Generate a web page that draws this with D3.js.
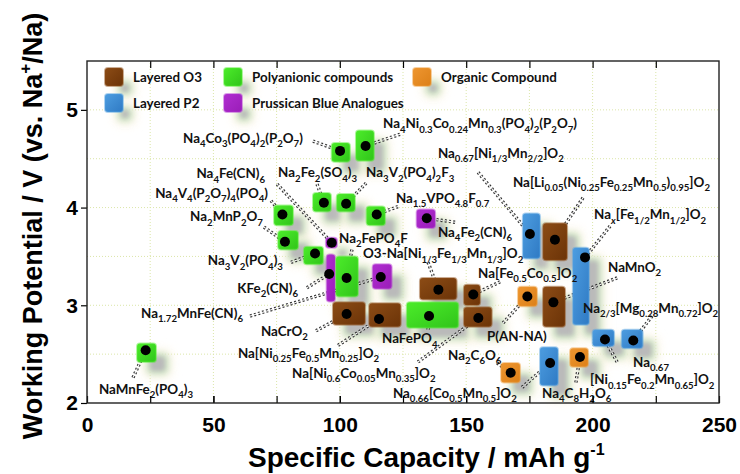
<!DOCTYPE html>
<html>
<head>
<meta charset="utf-8">
<script src="https://cdn.jsdelivr.net/npm/d3@7"></script>
<style>
  body { margin: 0; background: #fff; }
  svg { display: block; }
</style>
</head>
<body>
<div id="chart"></div>
<script>
// material names, "_{...}" marks a subscript
const names = [
  "Na_{4}Co_{3}(PO_{4})_{2}(P_{2}O_{7})",
  "Na_{4}Ni_{0.3}Co_{0.24}Mn_{0.3}(PO_{4})_{2}(P_{2}O_{7})",
  "Na_{2}Fe_{2}(SO_{4})_{3}",
  "Na_{3}V_{2}(PO_{4})_{2}F_{3}",
  "Na_{1.5}VPO_{4.8}F_{0.7}",
  "Na_{4}V_{4}(P_{2}O_{7})_{4}(PO_{4})",
  "Na_{2}MnP_{2}O_{7}",
  "Na_{3}V_{2}(PO_{4})_{3}",
  "Na_{4}Fe(CN)_{6}",
  "KFe_{2}(CN)_{6}",
  "Na_{2}FePO_{4}F",
  "Na_{1.72}MnFe(CN)_{6}",
  "NaCrO_{2}",
  "Na[Ni_{0.25}Fe_{0.5}Mn_{0.25}]O_{2}",
  "NaFePO_{4}",
  "O3-Na[Ni_{1/3}Fe_{1/3}Mn_{1/3}]O_{2}",
  "Na[Fe_{0.5}Co_{0.5}]O_{2}",
  "Na[Ni_{0.6}Co_{0.05}Mn_{0.35}]O_{2}",
  "P(AN-NA)",
  "NaMnO_{2}",
  "Na_{0.67}[Ni_{1/3}Mn_{2/2}]O_{2}",
  "Na[Li_{0.05}(Ni_{0.25}Fe_{0.25}Mn_{0.5})_{0.95}]O_{2}",
  "Na_{x}[Fe_{1/2}Mn_{1/2}]O_{2}",
  "Na_{2/3}[Mg_{0.28}Mn_{0.72}]O_{2}",
  "Na_{0.67}",
  "Na_{4}C_{8}H_{2}O_{6}",
  "Na_{0.66}[Co_{0.5}Mn_{0.5}]O_{2}",
  "Na_{2}C_{6}O_{6}",
  "NaMnFe_{2}(PO_{4})_{3}",
  "Na_{4}Fe_{2}(CN)_{6}"
];
const kinds = ["poly","poly","poly","poly","poly","poly","poly","poly","pba","pba",
               "poly","pba","O3","O3","poly","O3","O3","O3","org","O3",
               "P2","O3","P2","P2","P2","org","P2","org","poly","pba"];

// specific capacity (mAh/g) and working potential (V) of each material
const capacity  = [100.1,110.2,93.7,102.5,114.6,77.3,78.3,90.2,96.8,95.8,
                   102.7,116.2,102.7,115.5,135.3,139.0,152.8,154.8,174.2,184.5,
                   175.2,185.1,197.0,216.1,204.9,195.0,183.2,167.6,23.2,134.4];
const potential = [4.58,4.63,4.05,4.04,3.93,3.93,3.65,3.53,3.64,3.32,
                   3.28,3.29,2.91,2.86,2.89,3.16,3.11,2.87,3.09,3.03,
                   3.73,3.67,3.49,2.64,2.65,2.47,2.41,2.31,2.54,3.89];
// range boxes
const capLo = [96.8,106.4,89.4,98.8,110.6,74.0,75.6,85.8,94.5,94.8,
               98.5,113.0,97.3,111.6,126.5,131.7,149.1,149.1,170.5,180.4,
               172.4,180.4,192.2,211.5,200.0,191.1,179.2,163.8,19.8,130.4];
const capHi = [104.0,113.5,96.5,106.0,117.9,81.5,83.5,93.4,98.9,98.1,
               107.2,120.5,110.0,124.1,146.9,146.2,155.5,160.1,178.0,189.1,
               179.2,189.9,198.6,219.8,208.5,198.2,186.3,171.3,27.3,137.7];
const potLo = [4.47,4.48,3.96,3.96,3.82,3.82,3.57,3.42,3.59,3.04,
               3.09,3.17,2.80,2.78,2.77,3.06,3.00,2.78,2.99,2.78,
               3.48,3.46,2.80,2.56,2.58,2.37,2.18,2.21,2.42,3.79];
const potHi = [4.66,4.79,4.15,4.14,4.01,4.02,3.76,3.60,3.69,3.52,
               3.50,3.42,3.03,3.02,3.03,3.28,3.21,2.98,3.19,3.19,
               3.94,3.84,3.59,2.75,2.75,2.56,2.57,2.41,2.61,3.98];

// where each label sits and where its leader line starts (data units)
const labelCap = [85.4,117.1,75.6,110.4,122.2,71.6,69.6,77.5,70.4,83.5,
                  99.7,61.7,87.4,59.7,116.7,109.2,154.7,81.1,158.2,206.1,
                  138.8,168.5,200.6,196.2,216.0,180.0,121.0,142.8,4.7,138.8];
const labelPot = [4.66,4.81,4.31,4.31,4.05,4.10,3.86,3.41,4.30,3.13,
                  3.64,2.87,2.69,2.46,2.61,3.48,3.28,2.26,2.63,3.34,
                  4.51,4.21,3.88,2.92,2.37,2.05,2.05,2.44,2.09,3.70];
const labelEnd = [0,5,6,7,8,9,11,12];   // right aligned labels
const leadCap = [89.4,123.8,91.0,110.4,123.0,72.8,70.0,80.7,75.2,87.0,
                 104.8,64.5,90.6,99.3,134.9,134.9,163.4,130.9,164.6,209.7,
                 154.7,196.2,206.9,223.5,209.7,193.4,172.1,162.2,18.2,145.6];
const leadPot = [4.68,4.75,4.24,4.25,4.01,4.07,3.80,3.44,4.24,3.18,
                 3.57,2.89,2.74,2.59,2.75,3.44,3.24,2.42,2.82,3.28,
                 4.36,4.10,3.81,2.89,2.42,2.21,2.16,2.41,2.26,3.85];
// second line of the Na0.67 label
const extraText = ["[Ni_{0.15}Fe_{0.2}Mn_{0.65}]O_{2}"];
const extraCap = [199.0];
const extraPot = [2.19];

const legendNames = ["Layered O3", "Layered P2", "Polyanionic compounds", "Prussican Blue Analogues", "Organic Compound"];
const legendKinds = ["O3", "P2", "poly", "pba", "org"];

const xTicks = [0, 50, 100, 150, 200, 250];
const xMinor = [25, 50, 75, 100, 125, 150, 175, 200, 225];
const yTicks = [2, 3, 4, 5];
const yGrid = [2.5, 3, 3.5, 4, 4.5, 5];

const colors = {
  O3:   ["#8c4c16", "#6b3307"],
  P2:   ["#4d9de0", "#2f7ac4"],
  poly: ["#4cec2a", "#30c41a"],
  pba:  ["#b02ed0", "#9a1db8"],
  org:  ["#ee9630", "#dc8018"]
};

const W = 740, H = 474;
const FS = 13.4;   // label font size
const labelFont = "Lato, 'Open Sans', sans-serif";
const svg = d3.select("#chart").append("svg")
  .attr("width", W).attr("height", H);

const x = d3.scaleLinear().domain([0, 250]).range([87, 719]);
const y = d3.scaleLinear().domain([2, 5.5]).range([403, 61]);

const defs = svg.append("defs");
[["b2", 2], ["b3", 3], ["b5", 5]].forEach(function(f) {
  defs.append("filter").attr("id", f[0])
    .attr("x", "-100%").attr("y", "-100%").attr("width", "300%").attr("height", "300%")
    .append("feGaussianBlur").attr("stdDeviation", f[1]);
});
Object.keys(colors).forEach(function(k) {
  let g = defs.append("linearGradient").attr("id", "g_" + k)
    .attr("x1", "0").attr("y1", "0").attr("x2", "1").attr("y2", "1");
  g.append("stop").attr("offset", "0").attr("stop-color", colors[k][0]);
  g.append("stop").attr("offset", "1").attr("stop-color", colors[k][1]);
});

function richText(sel, str, fs) {
  let parts = str.split(/(_\{[^}]*\})/);
  let down = false;
  parts.forEach(function(p) {
    if (!p) return;
    if (p.startsWith("_{")) {
      let t = p.slice(2, -1);
      sel.append("tspan")
        .attr("dy", down ? 0 : fs * 0.32)
        .attr("font-size", fs * 0.72)
        .attr("font-style", t === "x" ? "italic" : null)
        .text(t);
      down = true;
    } else {
      sel.append("tspan").attr("dy", down ? -fs * 0.32 : 0).text(p);
      down = false;
    }
  });
}

// soft grey/green glow behind each box, shifted down-right
function shadow(g, x0, y0, w, h) {
  let dx = 11, dy = 11;
  g.append("rect").attr("x", x0 + dx - 6).attr("y", y0 + dy - 6)
    .attr("width", w + 12).attr("height", h + 12).attr("rx", 8)
    .attr("fill", "#fbf3de").attr("opacity", 0.6).attr("filter", "url(#b5)");
  g.append("rect").attr("x", x0 + dx - 2).attr("y", y0 + dy - 2)
    .attr("width", w + 4).attr("height", h + 4).attr("rx", 6)
    .attr("fill", "#cfe3c6").attr("filter", "url(#b3)");
  g.append("rect").attr("x", x0 + dx + 2).attr("y", y0 + dy + 2)
    .attr("width", Math.max(w - 4, 4)).attr("height", Math.max(h - 4, 4)).attr("rx", 4)
    .attr("fill", "#bababa").attr("filter", "url(#b2)");
}

function box(g, x0, y0, w, h, k) {
  g.append("rect").attr("x", x0).attr("y", y0)
    .attr("width", w).attr("height", h).attr("rx", 3)
    .attr("fill", "url(#g_" + k + ")")
    .attr("stroke", colors[k][0]).attr("stroke-opacity", 0.45).attr("stroke-width", 2);
}

const idx = d3.range(names.length);

// grid
const grid = svg.append("g");
grid.selectAll(".gx").data(xMinor).enter().append("line")
  .attr("x1", d => x(d)).attr("x2", d => x(d)).attr("y1", y(2)).attr("y2", y(5.5))
  .attr("stroke", "#dbe6a8").attr("stroke-width", 1).attr("stroke-dasharray", "1,2");
grid.selectAll(".gy").data(yGrid).enter().append("line")
  .attr("x1", x(0)).attr("x2", x(250)).attr("y1", d => y(d)).attr("y2", d => y(d))
  .attr("stroke", "#dbe6a8").attr("stroke-width", 1).attr("stroke-dasharray", "1,2");

// shadows
const shadows = svg.append("g");
idx.forEach(function(i) {
  shadow(shadows, x(capLo[i]), y(potHi[i]), x(capHi[i]) - x(capLo[i]), y(potLo[i]) - y(potHi[i]));
});

// legend
const legend = svg.append("g");
const legPos = [[105, 68], [105, 94], [224, 68], [224, 94], [413, 68]];
legendNames.forEach(function(n, i) {
  shadow(legend, legPos[i][0] + 3, legPos[i][1] + 3, 12, 12);
});
legendNames.forEach(function(n, i) {
  box(legend, legPos[i][0], legPos[i][1], 18, 18, legendKinds[i]);
  legend.append("text")
    .attr("x", legPos[i][0] + 28).attr("y", legPos[i][1] + 14)
    .attr("font-family", labelFont).attr("font-weight", "bold")
    .attr("font-size", FS).attr("fill", "#111")
    .text(n);
});

// leader lines, drawn as a double dashed line
const leaders = svg.append("g");
idx.forEach(function(i) {
  [["#333", 3.4], ["#fff", 1.1]].forEach(function(s) {
    leaders.append("line")
      .attr("x1", x(leadCap[i])).attr("y1", y(leadPot[i]))
      .attr("x2", x(capacity[i])).attr("y2", y(potential[i]))
      .attr("stroke", s[0]).attr("stroke-width", s[1])
      .attr("stroke-dasharray", "2,2.2");
  });
});

// boxes and dots
const marks = svg.append("g");
idx.forEach(function(i) {
  box(marks, x(capLo[i]), y(potHi[i]), x(capHi[i]) - x(capLo[i]), y(potLo[i]) - y(potHi[i]), kinds[i]);
});
marks.selectAll("circle").data(idx).enter().append("circle")
  .attr("cx", i => x(capacity[i])).attr("cy", i => y(potential[i]))
  .attr("r", 5).attr("fill", "#000");

// labels
const labels = svg.append("g")
  .attr("font-family", labelFont).attr("font-weight", "bold")
  .attr("font-size", FS).attr("fill", "#111");
idx.forEach(function(i) {
  let t = labels.append("text")
    .attr("x", x(labelCap[i])).attr("y", y(labelPot[i]))
    .attr("text-anchor", labelEnd.indexOf(i) >= 0 ? "end" : "start");
  richText(t, names[i], FS);
});
extraText.forEach(function(s, i) {
  let t = labels.append("text").attr("x", x(extraCap[i])).attr("y", y(extraPot[i]));
  richText(t, s, FS);
});

// axes
const axisFont = "'Liberation Sans', Arial, sans-serif";
const xAxis = svg.append("g").attr("transform", "translate(0," + y(2) + ")")
  .call(d3.axisBottom(x).tickValues(xTicks).tickSize(-7).tickPadding(14).tickFormat(d3.format("d")));
svg.append("g").attr("transform", "translate(0," + y(2) + ")")
  .call(d3.axisBottom(x).tickValues(xMinor).tickSize(-7).tickFormat(""));
svg.append("g").attr("transform", "translate(0," + y(5.5) + ")")
  .call(d3.axisTop(x).tickValues(xMinor).tickSize(-7).tickFormat(""));
const yAxis = svg.append("g").attr("transform", "translate(" + x(0) + ",0)")
  .call(d3.axisLeft(y).tickValues(yTicks).tickSize(6).tickPadding(3).tickFormat(d3.format("d")));
svg.selectAll(".domain").remove();
svg.selectAll(".tick line").attr("stroke", "#000").attr("stroke-width", 1.2);
[xAxis, yAxis].forEach(function(a) {
  a.selectAll("text").attr("font-family", axisFont).attr("font-weight", "bold")
    .attr("font-size", 21).attr("fill", "#000");
});

svg.append("rect")
  .attr("x", x(0)).attr("y", y(5.5))
  .attr("width", x(250) - x(0)).attr("height", y(2) - y(5.5))
  .attr("fill", "none").attr("stroke", "#222").attr("stroke-width", 1.4);

// axis titles
let xt = svg.append("text")
  .attr("x", 248).attr("y", 467)
  .attr("font-family", axisFont).attr("font-weight", "bold").attr("font-size", 28);
xt.append("tspan").text("Specific Capacity / mAh g");
xt.append("tspan").attr("dy", -12).attr("font-size", 16).text("-1");

let yt = svg.append("text")
  .attr("transform", "translate(42,226) rotate(-90)")
  .attr("text-anchor", "middle")
  .attr("font-family", axisFont).attr("font-weight", "bold").attr("font-size", 27);
yt.append("tspan").text("Working Potential / V (vs. Na");
yt.append("tspan").attr("dy", -11).attr("font-size", 17).text("+");
yt.append("tspan").attr("dy", 11).text("/Na)");
</script>
</body>
</html>
